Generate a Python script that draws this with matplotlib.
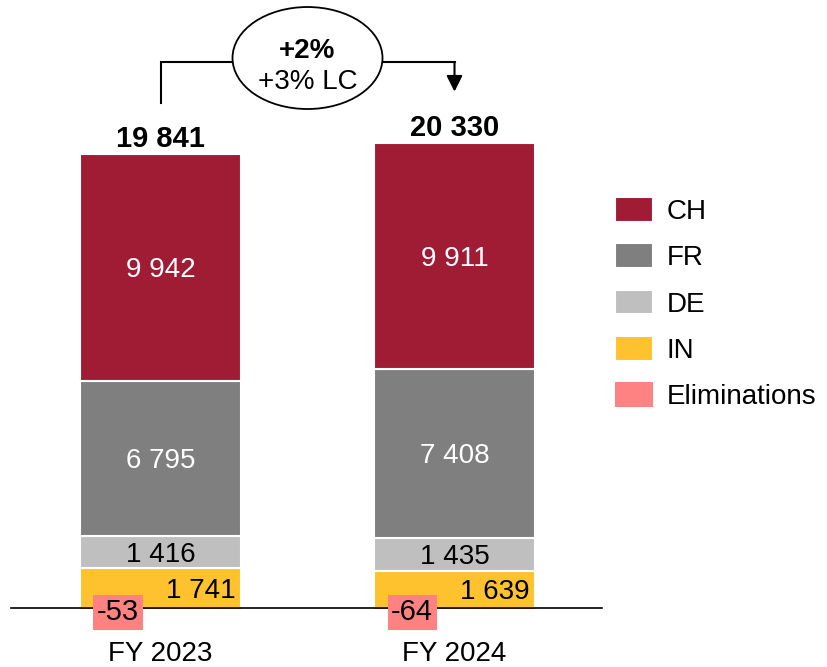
import matplotlib
matplotlib.use("Agg")
import matplotlib.pyplot as plt
from matplotlib.patches import Ellipse
import numpy as np

plt.rcParams['font.family'] = ['Liberation Sans', 'DejaVu Sans']

# data
years = ["FY 2023", "FY 2024"]
ch = [9942, 9911]
fr = [6795, 7408]
de = [1416, 1435]
india = [1741, 1639]
elim = [-53, -64]
totals = [19841, 20330]
growth = "+2%"
growth_lc = "+3% LC"

c_ch = "#A01C35"
c_fr = "#7F7F7F"
c_de = "#BFBFBF"
c_in = "#FEC22E"
c_el = "#FF8282"


def fmt(v):
    return f"{v:,}".replace(",", " ")


fig = plt.figure(figsize=(8.27, 6.67), dpi=100)
ax = fig.add_axes([0, 0, 1, 1])
ax.axis('off')

# pixel scales of the layout
xs = 294.0      # px per category step
ys = 0.02282    # px per unit
ax.set_xlim(-160.5 / xs, (827 - 160.5) / xs)
ax.set_ylim(-59 / ys, 608 / ys)


def px(n):
    return n / ys


x = np.arange(len(years))
w = 161 / xs
fs = 20
va_c = 'center_baseline'

b_in = ax.bar(x, india, w, color=c_in, edgecolor='white', linewidth=1.5, label="IN")
b_de = ax.bar(x, de, w, bottom=india, color=c_de, edgecolor='white', linewidth=1.5, label="DE")
bot_fr = np.array(india) + np.array(de)
b_fr = ax.bar(x, fr, w, bottom=bot_fr, color=c_fr, edgecolor='white', linewidth=1.5, label="FR")
bot_ch = bot_fr + np.array(fr)
b_ch = ax.bar(x, ch, w, bottom=bot_ch, color=c_ch, edgecolor='white', linewidth=1.5, label="CH")
b_el = ax.bar(x, elim, w, color=c_el, linewidth=0, label="Eliminations")
tops = bot_ch + np.array(ch)

for i in x:
    ax.text(i, bot_ch[i] + ch[i] / 2, fmt(ch[i]), ha='center', va=va_c, color='white', fontsize=fs)
    ax.text(i, bot_fr[i] + fr[i] / 2, fmt(fr[i]), ha='center', va=va_c, color='white', fontsize=fs)
    ax.text(i, india[i] + de[i] / 2, fmt(de[i]), ha='center', va=va_c, color='black', fontsize=fs)
    ax.text(i + w / 2 - 5 / xs, india[i] / 2, fmt(india[i]), ha='right', va=va_c, color='black', fontsize=fs)
    ax.text(i - 42.5 / xs, -px(1), fmt(elim[i]), ha='center', va=va_c, color='black', fontsize=fs + 1,
            zorder=8, bbox=dict(boxstyle='square,pad=0.12', fc=c_el, ec='none'))
    ax.text(i, tops[i] + px(7), fmt(totals[i]), ha='center', va='baseline', fontsize=fs + 1, fontweight='bold')
    ax.text(i, -px(53), years[i], ha='center', va='baseline', fontsize=fs)

# baseline
ax.plot([-150 / xs, 1 + 147.5 / xs], [0, 0], color='black', lw=1.2, zorder=5)

# growth bubble
level = tops[0] + px(92)
ax.plot([0, 0, 1], [tops[0] + px(51), level, level], color='black', lw=1.5, solid_joinstyle='miter')
ax.annotate('', xy=(1, tops[1] + px(51)), xytext=(1, level),
            arrowprops=dict(arrowstyle='-|>', lw=1.5, color='black', mutation_scale=24,
                            shrinkA=0, shrinkB=0))
ax.add_patch(Ellipse((0.5, level + px(4)), 150 / xs, px(102), fc='white', ec='black', lw=1.3, zorder=6))
ax.text(0.5, level + px(14), growth, ha='center', va=va_c, fontsize=fs, fontweight='bold', zorder=7)
ax.text(0.5, level - px(17), growth_lc, ha='center', va=va_c, fontsize=fs, zorder=7)

ax.legend(handles=[b_ch, b_fr, b_de, b_in, b_el], loc='upper left',
          bbox_to_anchor=(615 / 827, (667 - 197) / 667), bbox_transform=fig.transFigure,
          frameon=False, fontsize=fs, handlelength=1.37, handleheight=1.0,
          handletextpad=0.5, labelspacing=0.66, borderpad=0, borderaxespad=0)

fig.savefig("out.png", dpi=100)
